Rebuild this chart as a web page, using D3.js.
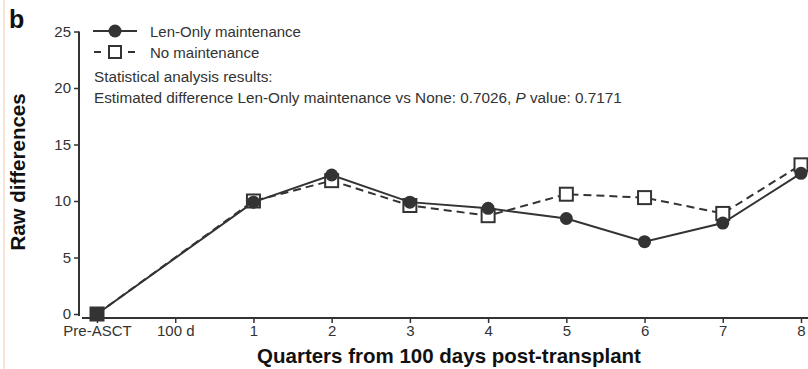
<script src="https://d3js.org/d3.v7.min.js"></script>
<body style="margin:0;background:#fff">
</body>
<script>
// data
var xLabels = ["Pre-ASCT", "100 d", "1", "2", "3", "4", "5", "6", "7", "8"];
var lenOnly = [[0, 0], [2, 9.9], [3, 12.3], [4, 9.9], [5, 9.35], [6, 8.45], [7, 6.4], [8, 8.05], [9, 12.45]];
var noMaint = [[0, 0], [2, 10.0], [3, 11.8], [4, 9.6], [5, 8.7], [6, 10.6], [7, 10.3], [8, 8.9], [9, 13.2]];
var yTicks = [0, 5, 10, 15, 20, 25];

const W = 808, H = 369;
const ink = "#333";
const font = "Liberation Sans, Arial, sans-serif";

const svg = d3.select("body").append("svg")
  .attr("width", W).attr("height", H)
  .style("font-family", font);

// faint left page edge
svg.append("line").attr("x1", 4).attr("x2", 4).attr("y1", 0).attr("y2", H)
  .attr("stroke", "#f6dccb").attr("stroke-width", 1.5);

var x = d3.scaleLinear().domain([0, 9]).range([97, 801]);
var y = d3.scaleLinear().domain([0, 25]).range([314, 31.5]);

// y axis
var yAxis = svg.append("g").attr("transform", "translate(79,0)")
  .call(d3.axisLeft(y).tickValues(yTicks).tickSize(5).tickSizeOuter(0));
yAxis.select(".domain").attr("stroke", ink).attr("stroke-width", 2).attr("d", "M0," + y(25) + "V316");
yAxis.selectAll(".tick line").attr("stroke", ink).attr("stroke-width", 1.5);
yAxis.selectAll("text").attr("fill", ink).style("font-size", "15px").style("font-family", font).attr("x", -8);

// x axis
var xAxis = svg.append("g").attr("transform", "translate(0,318)")
  .call(d3.axisBottom(x).tickValues(d3.range(10)).tickFormat(function(i) { return xLabels[i]; }).tickSize(5).tickSizeOuter(0));
xAxis.select(".domain").attr("stroke", ink).attr("stroke-width", 2).attr("d", "M82,0H808");
xAxis.selectAll(".tick line").attr("stroke", ink).attr("stroke-width", 1.5);
xAxis.selectAll("text").attr("fill", ink).style("font-size", "15px").style("font-family", font).attr("y", 7);

// axis titles
svg.append("text").attr("x", 449).attr("y", 363).attr("text-anchor", "middle")
  .style("font-size", "20.5px").style("font-weight", "bold").attr("fill", "#111")
  .text("Quarters from 100 days post-transplant");
svg.append("text").attr("transform", "translate(25,172) rotate(-90)").attr("text-anchor", "middle")
  .style("font-size", "20.5px").style("font-weight", "bold").attr("fill", "#111")
  .text("Raw differences");
svg.append("text").attr("x", 9).attr("y", 28)
  .style("font-size", "25px").style("font-weight", "bold").attr("fill", "#111").text("b");

var line = d3.line().x(function(d) { return x(d[0]); }).y(function(d) { return y(d[1]); });

// No maintenance (dashed, open squares)
svg.append("path").datum(noMaint).attr("d", line)
  .attr("fill", "none").attr("stroke", ink).attr("stroke-width", 2).attr("stroke-dasharray", "8,5");
// Len-Only (solid, filled circles)
svg.append("path").datum(lenOnly).attr("d", line)
  .attr("fill", "none").attr("stroke", ink).attr("stroke-width", 2);

svg.selectAll(".sq").data(noMaint).enter().append("rect")
  .attr("x", function(d) { return x(d[0]) - 6.5; })
  .attr("y", function(d) { return y(d[1]) - 6.5; })
  .attr("width", 13).attr("height", 13)
  .attr("fill", "#fff").attr("stroke", ink).attr("stroke-width", 2);
svg.selectAll(".dot").data(lenOnly).enter().append("circle")
  .attr("cx", function(d) { return x(d[0]); })
  .attr("cy", function(d) { return y(d[1]); })
  .attr("r", 6.5).attr("fill", ink);
// Pre-ASCT point drawn as a filled square (both series overlap)
svg.append("rect").attr("x", x(0) - 7).attr("y", y(0) - 7).attr("width", 14).attr("height", 14).attr("fill", ink);

// legend
var lg = svg.append("g");
lg.append("line").attr("x1", 93).attr("x2", 137).attr("y1", 31).attr("y2", 31).attr("stroke", ink).attr("stroke-width", 2);
lg.append("circle").attr("cx", 115).attr("cy", 31).attr("r", 6.5).attr("fill", ink);
lg.append("line").attr("x1", 94).attr("x2", 135).attr("y1", 52).attr("y2", 52).attr("stroke", ink).attr("stroke-width", 2).attr("stroke-dasharray", "7,27,7");
lg.append("rect").attr("x", 109).attr("y", 46).attr("width", 12).attr("height", 12).attr("fill", "#fff").attr("stroke", ink).attr("stroke-width", 2);
lg.append("text").attr("x", 150).attr("y", 36.5).style("font-size", "15px").attr("fill", ink).text("Len-Only maintenance");
lg.append("text").attr("x", 150).attr("y", 57.5).style("font-size", "15px").attr("fill", ink).text("No maintenance");
lg.append("text").attr("x", 94).attr("y", 81.5).style("font-size", "15.3px").attr("fill", ink).text("Statistical analysis results:");
var t = lg.append("text").attr("x", 94).attr("y", 102.5).style("font-size", "15.3px").attr("fill", ink);
t.append("tspan").text("Estimated difference Len-Only maintenance vs None: 0.7026, ");
t.append("tspan").style("font-style", "italic").text("P");
t.append("tspan").text(" value: 0.7171");
</script>
